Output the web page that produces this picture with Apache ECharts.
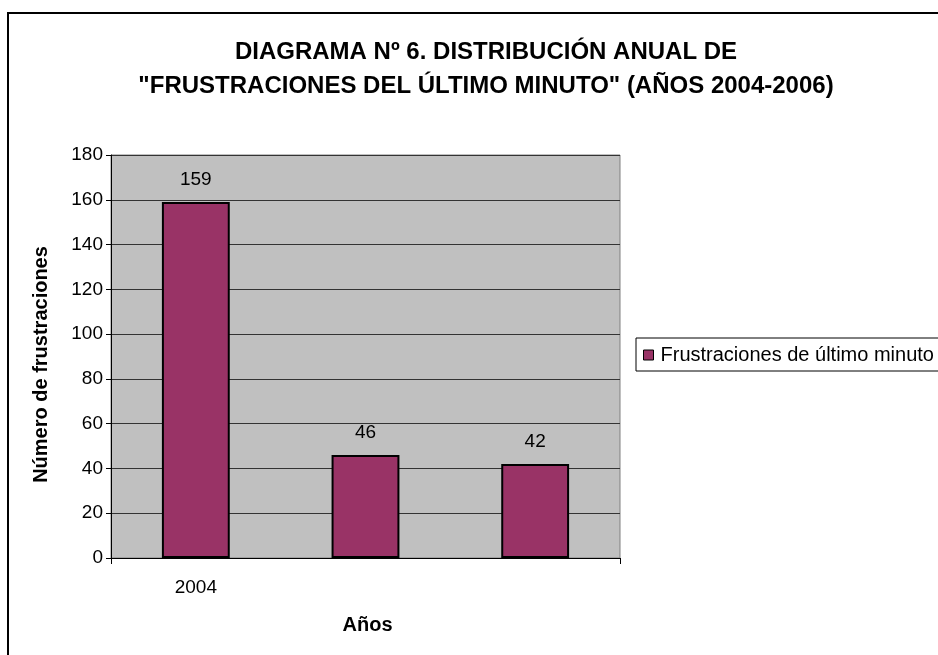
<!DOCTYPE html>
<html>
<head>
<meta charset="utf-8">
<script src="https://cdn.jsdelivr.net/npm/echarts@6/dist/echarts.min.js"></script>
<style>
  html, body { margin: 0; padding: 0; background: #fff; }
  #chart-container { width: 938px; height: 655px; }
</style>
</head>
<body>
<div id="chart-container"></div>
<script>
var dom = document.getElementById('chart-container');
var myChart = echarts.init(dom, null, { renderer: 'canvas' });

var years = ['2004', '2005', '2006'];
var frustraciones = [159, 46, 42];
var seriesName = 'Frustraciones de último minuto';

var font = 'Liberation Sans, Arial, sans-serif';

var option = {
    animation: false,
    textStyle: { fontFamily: font },
    title: {
        text: 'DIAGRAMA Nº 6. DISTRIBUCIÓN ANUAL DE\n"FRUSTRACIONES DEL ÚLTIMO MINUTO" (AÑOS 2004-2006)',
        left: 486,
        top: 35,
        textAlign: 'center',
        padding: 0,
        textStyle: { fontSize: 24, fontWeight: 'bold', color: '#000', lineHeight: 34, fontFamily: font }
    },
    legend: {
        left: 636,
        top: 338,
        itemWidth: 10,
        itemHeight: 10,
        itemGap: 0,
        padding: [7, 10, 6, 7],
        borderColor: '#000',
        borderWidth: 1,
        borderRadius: 0,
        icon: 'rect',
        textStyle: { fontSize: 20, color: '#000', fontFamily: font, padding: [0, 0, 0, 2] },
        data: [{ name: seriesName, itemStyle: { borderColor: '#000', borderWidth: 1 } }]
    },
    grid: {
        left: 111,
        top: 155,
        width: 509,
        height: 403,
        show: true,
        backgroundColor: '#C0C0C0',
        borderColor: '#808080',
        borderWidth: 1
    },
    xAxis: {
        type: 'category',
        data: years,
        name: 'Años',
        nameLocation: 'middle',
        nameGap: 57,
        nameTextStyle: { fontSize: 20, fontWeight: 'bold', color: '#000', fontFamily: font, padding: [0, 0, 0, 4] },
        axisLine: { lineStyle: { color: '#000', width: 1 } },
        axisTick: { show: true, length: 6, lineStyle: { color: '#000' } },
        axisLabel: {
            fontSize: 19, color: '#000', margin: 20, fontFamily: font,
            interval: function (i) { return i === 0; }
        }
    },
    yAxis: {
        type: 'value',
        min: 0,
        max: 180,
        interval: 20,
        name: 'Número de frustraciones',
        nameLocation: 'middle',
        nameGap: 60,
        nameTextStyle: { fontSize: 20, fontWeight: 'bold', color: '#000', fontFamily: font, padding: [0, 16, 0, 0] },
        axisLine: { show: true, lineStyle: { color: '#000', width: 1 } },
        axisTick: { show: true, length: 5, lineStyle: { color: '#000' } },
        axisLabel: { fontSize: 19, color: '#000', margin: 8, fontFamily: font },
        splitLine: { lineStyle: { color: '#333', width: 1 } }
    },
    graphic: [{
        type: 'rect',
        shape: { x: 8, y: 13, width: 1000, height: 700 },
        style: { fill: 'none', stroke: '#000', lineWidth: 2 },
        silent: true,
        z: -1
    }],
    series: [{
        name: seriesName,
        type: 'bar',
        data: frustraciones,
        barWidth: '40%',
        itemStyle: { color: '#993366', borderColor: '#000', borderWidth: 2 },
        label: { show: true, position: 'top', distance: 13, fontSize: 19, color: '#000', fontFamily: font }
    }]
};

myChart.setOption(option);
window.addEventListener('resize', myChart.resize);
</script>
</body>
</html>
